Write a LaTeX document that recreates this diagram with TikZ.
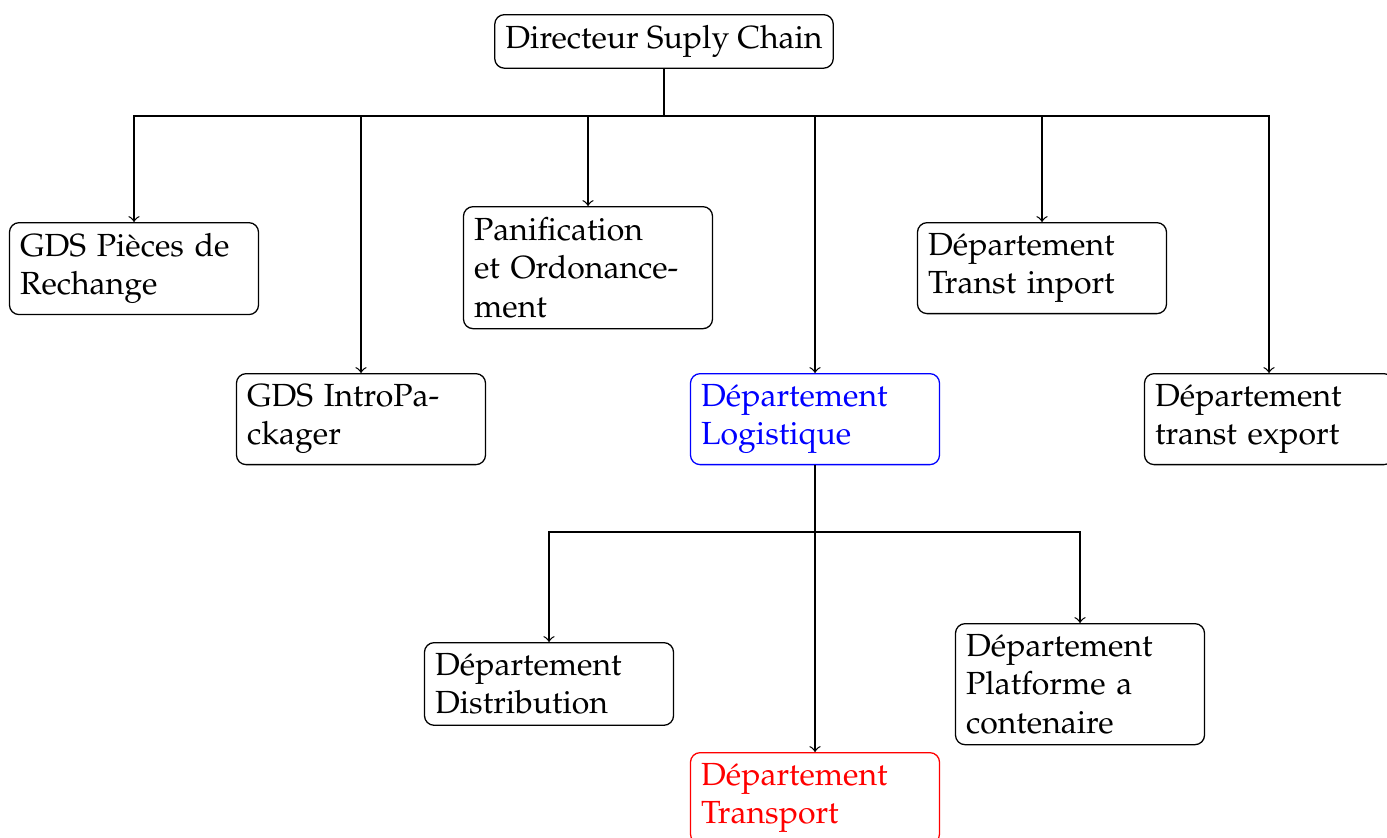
\documentclass[tikz,border=0pt]{standalone}
\usepackage[T1]{fontenc}
\usepackage{mathpazo}
\begin{document}
\begin{tikzpicture}[x=0.3124pt,y=-0.3124pt,
  box/.style={draw,rounded corners=3pt,text width=2.5cm,align=left,anchor=north,inner sep=0.3333em},
  topbox/.style={draw,rounded corners=3pt,anchor=north,inner sep=0.3333em},
  line/.style={draw,thin},
  arr/.style={->,thin}]
\useasboundingbox (0,0) rectangle (1387,837);
\node[topbox] (dir) at (664,14) {Directeur Suply Chain};
\node[box] (gds) at (134,222) {GDS Pi\`eces de\\Rechange};
\node[box] (intro) at (361,373) {GDS IntroPa-\\ckager};
\node[box] (plan) at (588,206) {Panification\\et Ordonance-\\ment};
\node[box,draw=blue,text=blue] (log) at (815,373) {D\'epartement\\Logistique};
\node[box] (inp) at (1042,222) {D\'epartement\\Transt inport};
\node[box] (exp) at (1269,373) {D\'epartement\\transt export};
\node[box] (dist) at (549,642) {D\'epartement\\Distribution};
\node[box] (plat) at (1080,623) {D\'epartement\\Platforme a\\contenaire};
\node[box,draw=red,text=red] (trans) at (815,752) {D\'epartement\\Transport};
\coordinate (b1) at (664,116);
\coordinate (b2) at (815,532);
\draw[line] (dir.south) -- (b1);
\foreach \n in {gds,intro,plan,log,inp,exp}
  \draw[arr] (b1) -| (\n.north);
\draw[line] (log.south) -- (b2);
\draw[arr] (b2) -| (dist.north);
\draw[arr] (b2) -| (plat.north);
\draw[arr] (b2) -- (trans.north);
\end{tikzpicture}
\end{document}
